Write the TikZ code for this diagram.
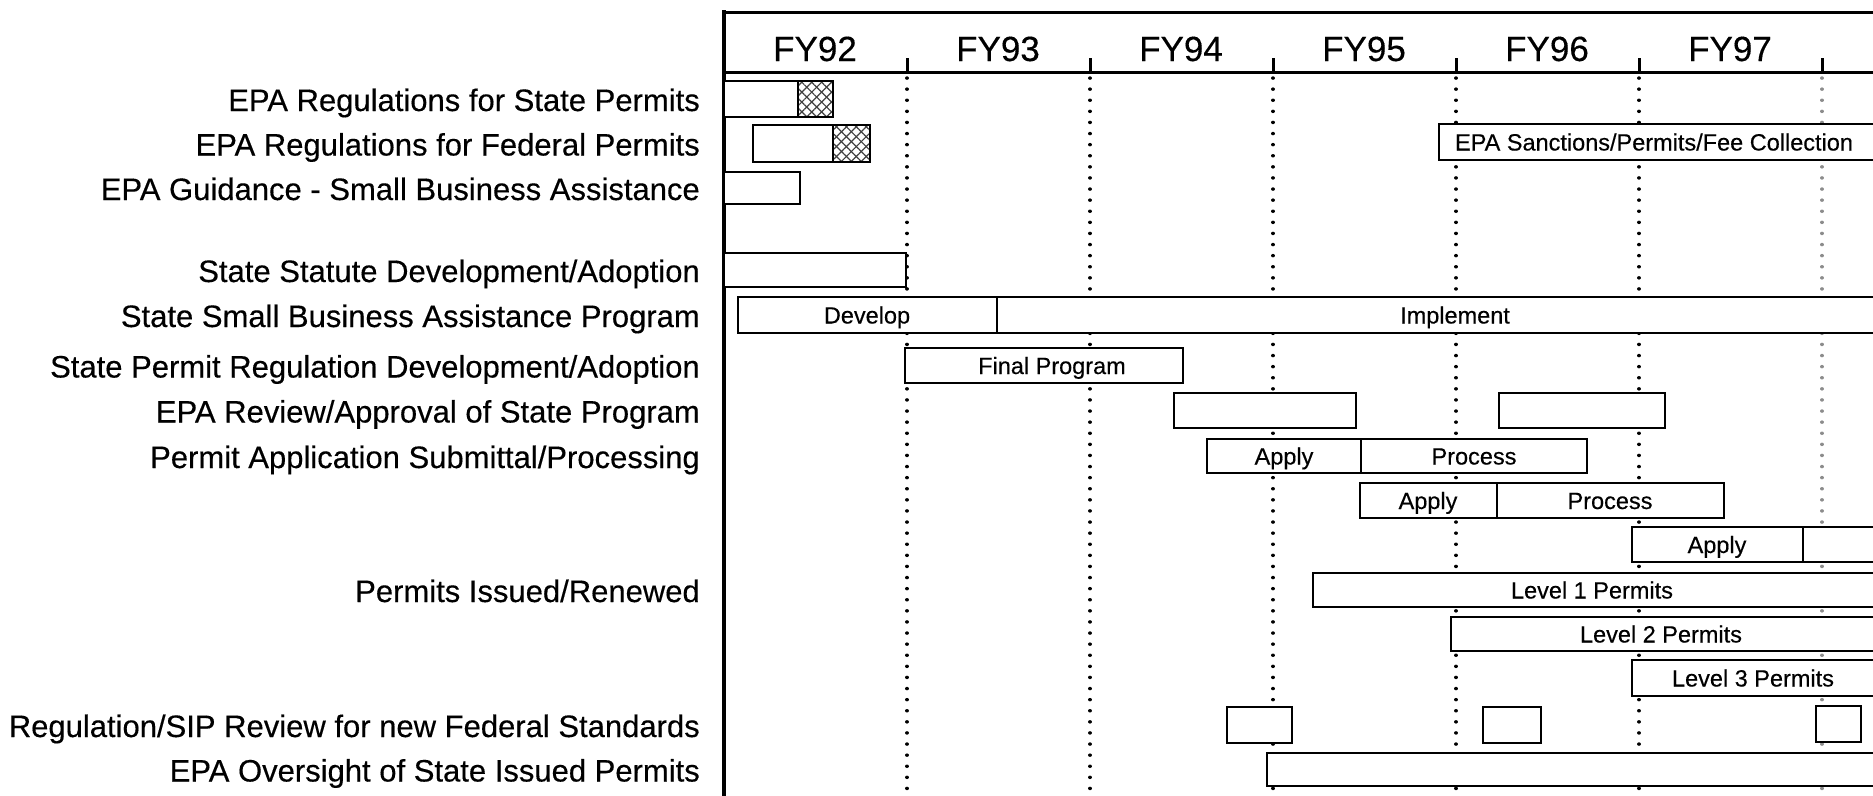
\documentclass[tikz,border=0pt]{standalone}
\usepackage{fontspec}
\setmainfont{Liberation Sans}
\newfontfamily\txtfont[FakeBold=0.35]{Liberation Sans}
\usetikzlibrary{patterns.meta}
\begin{document}
\begin{tikzpicture}[x=1pt,y=-1pt,
  bar/.style={draw=black, line width=2.8pt, fill=white},
  lab/.style={anchor=base east, font=\txtfont\fontsize{31}{36}\selectfont, inner sep=0pt},
  yr/.style={anchor=base, font=\txtfont\fontsize{35}{40}\selectfont, inner sep=0pt},
  btxt/.style={anchor=base, font=\txtfont\fontsize{23.5}{28}\selectfont, inner sep=0pt},
  dotl/.style={line width=3.4pt, line cap=round, dash pattern=on 0.1pt off 11pt},
  frame/.style={line width=3pt, line cap=rect},
  hatchA/.style={pattern={Lines[angle=45,distance=7pt,line width=1.2pt]}, pattern color=black!75},
  hatchB/.style={pattern={Lines[angle=-45,distance=7pt,line width=1.2pt]}, pattern color=black!75}]
\useasboundingbox (0,0) rectangle (1873,795);
\fill[white] (0,0) rectangle (1873,795);

% year boundaries
\foreach \xx in {907,1090,1273,1456,1639}{
  \draw[dotl] (\xx,78) -- (\xx,795);
  \draw[frame] (\xx,59) -- (\xx,72);
}
\draw[dotl, black!45] (1822,78) -- (1822,795);
\draw[frame] (1822,59) -- (1822,72);

% frame
\draw[frame] (724,12) -- (1885,12);
\draw[frame] (724,72) -- (1885,72);
\draw[line width=3.5pt] (724,10) -- (724,797);

% header
\node[yr] (fy92) at (815,61) {FY92};
\node[yr] (fy93) at (998,61) {FY93};
\node[yr] (fy94) at (1181,61) {FY94};
\node[yr] (fy95) at (1364,61) {FY95};
\node[yr] (fy96) at (1547,61) {FY96};
\node[yr] (fy97) at (1730,61) {FY97};

% row labels
\node[lab] (l1) at (700,111) {EPA Regulations for State Permits};
\node[lab] (l2) at (700,155.5) {EPA Regulations for Federal Permits};
\node[lab] (l3) at (700,200) {EPA Guidance - Small Business Assistance};
\node[lab] (l4) at (700,282) {State Statute Development/Adoption};
\node[lab] (l5) at (700,327) {State Small Business Assistance Program};
\node[lab] (l6) at (700,377.5) {State Permit Regulation Development/Adoption};
\node[lab] (l7) at (700,422.5) {EPA Review/Approval of State Program};
\node[lab] (l8) at (700,468) {Permit Application Submittal/Processing};
\node[lab] (l9) at (700,602) {Permits Issued/Renewed};
\node[lab] (l10) at (700,737) {Regulation/SIP Review for new Federal Standards};
\node[lab] (l11) at (700,781.5) {EPA Oversight of State Issued Permits};

% row 1
\draw[bar] (724,81) rectangle (833,117);
\fill[hatchA] (798,81) rectangle (833,117);
\fill[hatchB] (798,81) rectangle (833,117);
\draw[line width=2.8pt] (798,81) rectangle (833,117);
% row 2
\draw[bar] (753,125) rectangle (870,162);
\fill[hatchA] (833,125) rectangle (870,162);
\fill[hatchB] (833,125) rectangle (870,162);
\draw[line width=2.8pt] (833,125) rectangle (870,162);
% sanctions
\draw[bar] (1439,124) rectangle (1890,160);
\node[btxt] (sanc) at (1654,150.5) {EPA Sanctions/Permits/Fee Collection};
% row 3
\draw[bar] (724,172) rectangle (800,204);
% row 4
\draw[bar] (724,253) rectangle (906,287);
% row 5
\draw[bar] (738,297) rectangle (997,333);
\draw[bar] (997,297) rectangle (1890,333);
\node[btxt] (dev) at (867,323.5) {Develop};
\node[btxt] (impl) at (1455,323.5) {Implement};
% row 6
\draw[bar] (905,348) rectangle (1183,383);
\node[btxt] (final) at (1052,374) {Final Program};
% row 7
\draw[bar] (1174,393) rectangle (1356,428);
\draw[bar] (1499,393) rectangle (1665,428);
% row 8
\draw[bar] (1207,439) rectangle (1361,473);
\draw[bar] (1361,439) rectangle (1587,473);
\node[btxt] (ap1) at (1284,464.5) {Apply};
\node[btxt] (pr1) at (1474,464.5) {Process};
% row 9
\draw[bar] (1360,483) rectangle (1497,518);
\draw[bar] (1497,483) rectangle (1724,518);
\node[btxt] (ap2) at (1428,509) {Apply};
\node[btxt] (pr2) at (1610,509) {Process};
% row 10
\draw[bar] (1632,527) rectangle (1803,562);
\draw[bar] (1803,527) rectangle (1890,562);
\node[btxt] (ap3) at (1717,553) {Apply};
% levels
\draw[bar] (1313,573) rectangle (1890,607);
\node[btxt] (lv1) at (1592,598.5) {Level 1 Permits};
\draw[bar] (1451,617) rectangle (1890,651);
\node[btxt] (lv2) at (1661,642.5) {Level 2 Permits};
\draw[bar] (1632,660) rectangle (1890,696);
\node[btxt] (lv3) at (1753,686.5) {Level 3 Permits};
% regulation / SIP review
\draw[bar] (1227,707) rectangle (1292,743);
\draw[bar] (1483,707) rectangle (1541,743);
\draw[bar] (1816,706) rectangle (1861,742);
% oversight
\draw[bar] (1267,753) rectangle (1890,786);
\end{tikzpicture}
\end{document}
